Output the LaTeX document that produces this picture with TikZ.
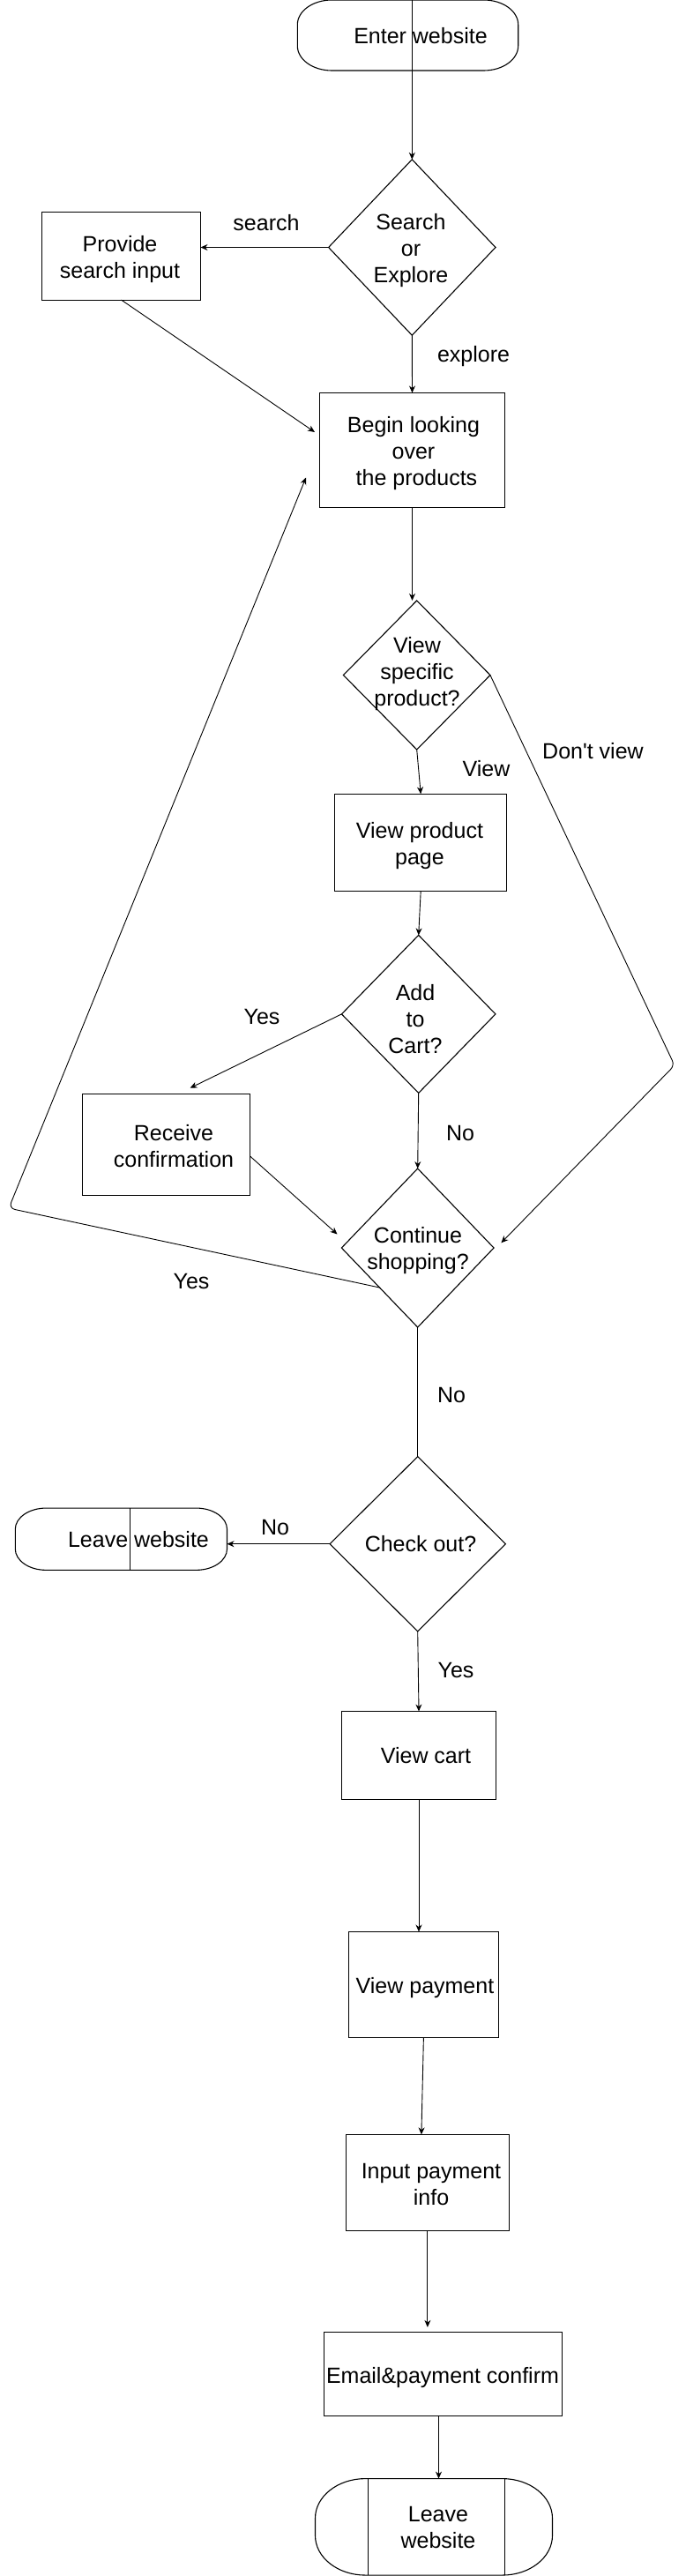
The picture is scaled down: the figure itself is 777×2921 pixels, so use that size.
\documentclass[tikz,border=0pt]{standalone}
\usepackage{fontspec}
\setmainfont{Liberation Sans}
\newfontfamily\lib{Liberation Sans}
\usetikzlibrary{shapes.geometric,arrows.meta,calc}
\newcommand\stadiumoutline[3]{%
  \draw[line width=1.1pt] ([xshift=#2]#1.north west) -- ([xshift=-#2]#1.north east)
    arc[start angle=90,end angle=0,x radius=#2,y radius=#3]
    -- ([yshift=#3]#1.south east)
    arc[start angle=0,end angle=-90,x radius=#2,y radius=#3]
    -- ([xshift=#2]#1.south west)
    arc[start angle=270,end angle=180,x radius=#2,y radius=#3]
    -- ([yshift=-#3]#1.north west)
    arc[start angle=180,end angle=90,x radius=#2,y radius=#3] -- cycle;}
\begin{document}
\begin{tikzpicture}[x=1pt,y=-1pt,
  shapebase/.style={line width=1.1pt, inner sep=0pt, outer sep=0pt},
  boxs/.style={shapebase, draw, rectangle},
  dia/.style={shapebase, draw, diamond},
  term/.style={shapebase, rectangle},
  txt/.style={align=center, inner sep=0pt, font=\lib\fontsize{25}{30}\selectfont},
  conn/.style={line width=0.9pt},
  arr/.style={conn, -{Stealth[length=8pt,width=7pt]}}]
\useasboundingbox (0,0) rectangle (777,2921);

% ---- shapes ----
\node[term, minimum width=250.4pt, minimum height=80pt] (enter) at (462.5,40) {};
\stadiumoutline{enter}{39pt}{28pt}
\node[txt] (enterT) at (477,41) {Enter website};

\node[dia, minimum width=189.4pt, minimum height=199.4pt] (search) at (467.3,280.5) {};
\node[txt] (searchT) at (466,284) {Search\\or\\Explore};

\node[boxs, minimum width=180pt, minimum height=99.7pt] (provide) at (137.5,290.2) {};
\node[txt] (provideT) at (136,294) {Provide\\search input};

\node[boxs, minimum width=209.7pt, minimum height=129.7pt] (begin) at (467.5,510.3) {};
\node[txt] (beginT) at (469,514) {Begin looking\\over\\\mbox{} the products};

\node[dia, minimum width=166.5pt, minimum height=169pt] (view) at (472.7,765.5) {};
\node[txt] (viewT) at (473,764) {View\\specific\\product?};

\node[boxs, minimum width=195.2pt, minimum height=110pt] (viewpage) at (477.2,955.3) {};
\node[txt] (viewpageT) at (476,959) {View product\\page};

\node[dia, minimum width=174.5pt, minimum height=179pt] (add) at (474.7,1149.9) {};
\node[txt] (addT) at (471,1156) {Add\\to\\Cart?};

\node[boxs, minimum width=189.7pt, minimum height=115.2pt] (receive) at (188.5,1297.8) {};
\node[txt] (receiveT) at (197,1300) {Receive\\confirmation};

\node[dia, minimum width=172.7pt, minimum height=180pt] (cont) at (473.7,1415) {};
\node[txt] (contT) at (474,1418) {Continue\\shopping?};

\node[dia, minimum width=199.3pt, minimum height=198.2pt] (check) at (473.7,1750.7) {};
\node[txt] (checkT) at (477,1751) {Check out?};

\node[term, minimum width=240.2pt, minimum height=70.3pt] (leaveA) at (137.4,1745.2) {};
\stadiumoutline{leaveA}{35pt}{24pt}
\draw[line width=1.1pt] ([xshift=10pt]leaveA.north) -- ([xshift=10pt]leaveA.south);
\node[txt] (leaveAT) at (157,1746) {Leave website};

\node[boxs, minimum width=175pt, minimum height=99.8pt] (cart) at (475,1990.4) {};
\node[txt] (cartT) at (483,1991) {View cart};

\node[boxs, minimum width=170pt, minimum height=119.7pt] (pay) at (480.4,2250.3) {};
\node[txt] (payT) at (482,2254) {View payment};

\node[boxs, minimum width=184.8pt, minimum height=109.3pt] (input) at (484.9,2475) {};
\node[txt] (inputT) at (489,2477) {Input payment\\info};

\node[boxs, minimum width=269.6pt, minimum height=94.3pt] (email) at (502.5,2692) {};
\node[txt] (emailT) at (502,2696) {Email\&payment confirm};

\node[term, minimum width=269pt, minimum height=109.5pt] (leaveB) at (492,2865.3) {};
\stadiumoutline{leaveB}{57pt}{45pt}
\draw[line width=1.1pt] ([xshift=60.2pt]leaveB.north west) -- ([xshift=60.2pt]leaveB.south west);
\draw[line width=1.1pt] ([xshift=-54.2pt]leaveB.north east) -- ([xshift=-54.2pt]leaveB.south east);
\node[txt] (leaveBT) at (497,2866) {Leave\\website};

% ---- connector points ----
\coordinate (top) at (467.3,0);
\coordinate (provEnd) at (357,490);
\coordinate (rc) at (765,1208);
\coordinate (rEnd) at (568.4,1409.3);
\coordinate (yesEnd) at (215.6,1233.7);
\coordinate (recEnd) at (382.5,1399.5);
\coordinate (lc) at (10,1370);
\coordinate (lEnd) at (347,541.5);

% ---- connectors ----
\draw[arr] (top) -- (search.north);
\draw[arr] (search.west) -- (search.west -| provide.east);
\draw[arr] (provide.south) -- (provEnd);
\draw[arr] (search.south) -- (begin.north);
\draw[arr] (begin.south) -- (begin.south |- view.north);
\draw[arr] (view.south) -- (viewpage.north);
\draw[arr, rounded corners=6pt] (view.east) -- (rc) -- (rEnd);
\draw[arr] (viewpage.south) -- (add.north);
\draw[arr] (add.west) -- (yesEnd);
\draw[arr] ([yshift=-13pt]receive.east) -- (recEnd);
\draw[arr] (add.south) -- (cont.north);
\draw[arr, rounded corners=7pt] ($(cont.west)!0.5!(cont.south)$) -- (lc) -- (lEnd);
\draw[conn] (cont.south) -- (check.north);
\draw[arr] (check.west) -- (check.west -| leaveA.east);
\draw[arr] (check.south) -- (cart.north);
\draw[arr] (cart.south) -- (cart.south |- pay.north);
\draw[arr] (pay.south) -- ([xshift=-7pt]input.north);
\draw[arr] (input.south) -- ($(input.south |- email.north)+(0,-6)$);
\draw[arr] ([xshift=-5pt]email.south) -- ([xshift=5.5pt]leaveB.north);

% ---- connector labels ----
\node[txt] (lSearch) at (302,253) {search};
\node[txt] (lExplore) at (537,404) {explore};
\node[txt] (lView) at (551.5,872) {View};
\node[txt] (lDont) at (672.5,852) {Don't view};
\node[txt] (lYesA) at (297,1153) {Yes};
\node[txt] (lNoA) at (522,1285) {No};
\node[txt] (lYesB) at (217,1453) {Yes};
\node[txt] (lNoB) at (512,1582) {No};
\node[txt] (lNoC) at (312,1732) {No};
\node[txt] (lYesC) at (517,1894) {Yes};
\end{tikzpicture}
\end{document}
